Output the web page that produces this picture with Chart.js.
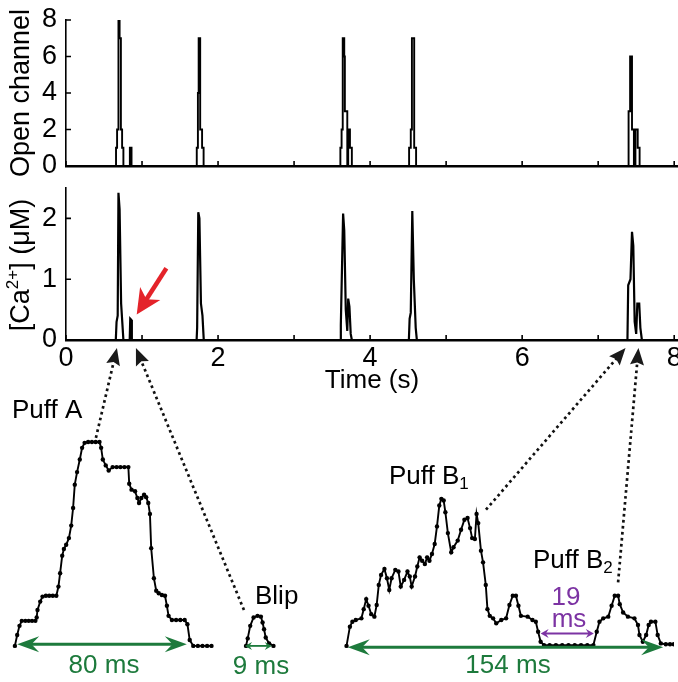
<!DOCTYPE html>
<html>
<head>
<meta charset="utf-8">
<script src="https://cdn.jsdelivr.net/npm/chart.js@4.4.0/dist/chart.umd.min.js"></script>
<style>
  html, body { margin: 0; padding: 0; background: #fff; }
  #wrap { position: relative; width: 678px; height: 682px; overflow: hidden; }
  canvas { position: absolute; left: 0; }
</style>
</head>
<body>
<div id="wrap">
  <canvas id="topChart" width="678" height="185" style="top:0px"></canvas>
  <canvas id="midChart" width="678" height="220" style="top:180px"></canvas>
  <canvas id="botChart" width="678" height="282" style="top:400px"></canvas>
  <canvas id="overlay" width="678" height="682" style="top:0px"></canvas>
</div>
<script>
// open channels: [time (s), number open from that time on]
const channelSteps = [
  [0, 0],
  [0.658, 1], [0.672, 2], [0.690, 8], [0.705, 7], [0.722, 2], [0.738, 1], [0.755, 0],
  [0.840, 1], [0.862, 0],
  [1.720, 1], [1.735, 4], [1.745, 7], [1.765, 2], [1.790, 1], [1.810, 0],
  [3.609, 1], [3.625, 2], [3.640, 7], [3.660, 6], [3.668, 3], [3.700, 0], [3.712, 2], [3.735, 1], [3.760, 0],
  [4.513, 1], [4.535, 2], [4.550, 7], [4.580, 1], [4.605, 0],
  [7.400, 3], [7.420, 6], [7.445, 2], [7.470, 0], [7.490, 2], [7.520, 1], [7.545, 0],
  [8.05, 0]
];

// [Ca2+] at the site: [time (s), uM]
const caTrace = [
  [0, 0],
  [0.655, 0], [0.665, 0.30], [0.680, 0.40], [0.690, 2.42], [0.705, 2.15], [0.725, 0.60], [0.740, 0.30], [0.755, 0],
  [0.838, 0], [0.845, 0.35], [0.860, 0.33], [0.866, 0],
  [1.718, 0], [1.725, 0.20], [1.740, 2.10], [1.755, 2.00], [1.775, 0.60], [1.795, 0.40], [1.812, 0],
  [3.605, 0], [3.615, 0.25], [3.645, 2.08], [3.660, 1.80], [3.680, 0.50], [3.700, 0.15], [3.712, 0.68], [3.728, 0.55], [3.745, 0.10], [3.760, 0],
  [4.510, 0], [4.520, 0.35], [4.535, 0.45], [4.555, 2.12], [4.575, 1.00], [4.600, 0.20], [4.615, 0],
  [7.385, 0], [7.395, 0.90], [7.425, 1.00], [7.445, 1.78], [7.462, 1.55], [7.480, 0.30], [7.500, 0.10], [7.515, 0.60], [7.540, 0.60], [7.555, 0.20], [7.575, 0],
  [8.05, 0]
];

const timeLabels = [0, 2, 4, 6, 8];
const channelLabels = [0, 2, 4, 6, 8];
const caLabels = [0, 1, 2];

// zoomed events: [ms from event start, uM]
const puffA = [
  [0, 0], [1.1, 0.13], [2.2, 0.24], [3.3, 0.30], [5.0, 0.30], [6.6, 0.30], [8.2, 0.30], [9.8, 0.30],
  [10.4, 0.34], [10.8, 0.43], [12.1, 0.53], [13.2, 0.59], [14.8, 0.60], [16.4, 0.60], [18.1, 0.60], [19.8, 0.60],
  [20.8, 0.71], [21.6, 0.87], [22.6, 1.08], [23.4, 1.16], [24.5, 1.21], [25.8, 1.29], [26.9, 1.44], [27.8, 1.65],
  [28.6, 1.93], [29.7, 2.08], [31.0, 2.23], [32.1, 2.37], [33.3, 2.43], [35.0, 2.44], [36.8, 2.44], [38.6, 2.44],
  [40.4, 2.44], [41.2, 2.37], [42.0, 2.23], [43.4, 2.16], [44.8, 2.10], [46.7, 2.14], [48.6, 2.14], [50.4, 2.14],
  [52.3, 2.14], [54.2, 2.14], [54.6, 1.94], [55.7, 1.87], [57.4, 1.85], [58.5, 1.77], [59.3, 1.71], [60.4, 1.77],
  [61.7, 1.81], [62.7, 1.78], [63.7, 1.71], [64.5, 1.58], [65.1, 1.17], [66.4, 0.81], [67.5, 0.66], [68.7, 0.63],
  [70.2, 0.61], [71.7, 0.60], [72.6, 0.48], [73.4, 0.36], [75.0, 0.31], [77.0, 0.31], [79.0, 0.31], [81.1, 0.31],
  [82.4, 0.26], [83.5, 0.07], [85.2, 0], [87.4, 0], [89.6, 0], [91.8, 0], [93.9, 0]
];
const blip = [
  [0, 0], [0.8, 0.09], [2.0, 0.24], [3.6, 0.34], [5.5, 0.36], [7.1, 0.35], [7.9, 0.28], [8.6, 0.20],
  [9.4, 0.10], [11.0, 0.03], [13.1, 0]
];
const puffB = [
  [0, 0], [1.6, 0.23], [2.8, 0.29], [4.4, 0.31], [7.1, 0.33], [8.2, 0.44], [9.4, 0.56], [10.5, 0.48],
  [11.8, 0.38], [13.3, 0.35], [14.4, 0.49], [15.4, 0.73], [16.5, 0.85], [18.1, 0.92], [19.3, 0.81], [20.4, 0.67],
  [21.5, 0.81], [23.3, 0.91], [24.8, 0.89], [25.9, 0.71], [27.5, 0.79], [29.1, 0.89], [30.2, 0.83], [31.1, 0.71],
  [32.7, 0.83], [33.8, 0.95], [34.9, 1.06], [36.1, 1.02], [37.4, 0.98], [38.5, 1.06], [39.6, 1.02], [40.8, 1.10],
  [42.1, 1.22], [43.2, 1.43], [44.3, 1.68], [45.3, 1.76], [46.4, 1.74], [47.2, 1.60], [48.4, 1.35], [50.0, 1.12],
  [51.1, 1.18], [53.1, 1.26], [54.7, 1.39], [56.3, 1.51], [57.8, 1.53], [59.0, 1.41], [60.0, 1.29], [61.3, 1.28],
  [62.1, 1.58], [62.9, 1.47], [64.2, 1.14], [65.2, 1.00], [66.5, 0.73], [67.3, 0.44], [68.4, 0.36], [70.0, 0.33],
  [71.5, 0.27], [73.9, 0.31], [76.2, 0.33], [77.8, 0.49], [79.4, 0.60], [80.9, 0.60], [82.1, 0.48], [83.3, 0.36],
  [86.5, 0.35], [88.8, 0.31], [90.4, 0.29], [91.5, 0.17], [92.7, 0.05], [94.3, 0.01],
  [97.0, 0.01], [100.0, 0.01], [103.0, 0.01], [106.0, 0.01], [109.0, 0.01], [112.0, 0.01], [115.0, 0.01], [117.9, 0.01],
  [119.5, 0.17], [120.8, 0.29], [122.6, 0.33], [125.0, 0.35], [126.6, 0.48], [128.1, 0.60], [129.7, 0.60], [130.5, 0.50],
  [132.1, 0.40], [134.4, 0.35], [137.5, 0.33], [139.2, 0.25], [139.9, 0.13], [141.5, 0.05], [143.1, 0.13], [144.3, 0.25],
  [145.4, 0.29], [147.5, 0.29], [148.6, 0.13], [150.1, 0.03], [152.5, 0.02], [154.5, 0.02], [156.3, 0.02]
];

const FONT = "'Liberation Sans', Arial, Helvetica, sans-serif";
const GREEN = '#1d7a3c';
const PURPLE = '#7c33a3';
const RED = '#e4232a';

// where each zoomed event starts on the inset time axis (ms)
const OFF_A = 5.2, OFF_BLIP = 115.6, OFF_B = 163.6;

function toXY(arr, off) {
  return arr.map(([x, y]) => ({ x: x + (off || 0), y: y }));
}

function richText(ctx, x, y, parts, align) {
  ctx.textBaseline = 'alphabetic';
  let w = 0;
  parts.forEach(p => { ctx.font = p.size + 'px ' + FONT; w += ctx.measureText(p.t).width; });
  let cx = align === 'center' ? x - w / 2 : x;
  ctx.textAlign = 'left';
  parts.forEach(p => {
    ctx.font = p.size + 'px ' + FONT;
    ctx.fillText(p.t, cx, y + (p.dy || 0));
    cx += ctx.measureText(p.t).width;
  });
}

function arrowHead(ctx, x1, y1, x2, y2, len, half, notch) {
  const a = Math.atan2(y2 - y1, x2 - x1);
  const c = Math.cos(a), s = Math.sin(a);
  ctx.beginPath();
  ctx.moveTo(x2, y2);
  ctx.lineTo(x2 - len * c + half * s, y2 - len * s - half * c);
  ctx.lineTo(x2 - len * notch * c, y2 - len * notch * s);
  ctx.lineTo(x2 - len * c - half * s, y2 - len * s + half * c);
  ctx.closePath();
  ctx.fill();
}

// short tick marks pointing into the plot
const inwardTicks = {
  id: 'inwardTicks',
  afterDraw(chart, args, opts) {
    const ctx = chart.ctx, area = chart.chartArea;
    const xs = chart.scales.x, ys = chart.scales.y;
    ctx.save();
    ctx.strokeStyle = '#000';
    ctx.lineWidth = 1.6;
    ctx.beginPath();
    xs.ticks.forEach(t => {
      const px = xs.getPixelForValue(t.value);
      ctx.moveTo(px, area.bottom);
      ctx.lineTo(px, area.bottom - opts.len);
    });
    ys.ticks.forEach(t => {
      const py = ys.getPixelForValue(t.value);
      ctx.moveTo(area.left, py);
      ctx.lineTo(area.left + opts.len, py);
    });
    ctx.stroke();
    ctx.restore();
  }
};

// rotated y title, x title and the red pointer
const axisTitles = {
  id: 'axisTitles',
  afterDraw(chart, args, opts) {
    const ctx = chart.ctx, area = chart.chartArea;
    ctx.save();
    ctx.fillStyle = '#000';
    ctx.translate(opts.yTitleX, opts.yTitleY);
    ctx.rotate(-Math.PI / 2);
    richText(ctx, 0, 9, opts.yTitle, 'center');
    ctx.restore();
    if (opts.xTitle) {
      ctx.save();
      ctx.fillStyle = '#000';
      richText(ctx, (area.left + area.right) / 2, area.bottom + opts.xTitleDy, opts.xTitle, 'center');
      ctx.restore();
    }
    if (opts.redArrow) {
      const r = opts.redArrow;
      const xs = chart.scales.x, ys = chart.scales.y;
      const x1 = xs.getPixelForValue(r.from[0]), y1 = ys.getPixelForValue(r.from[1]);
      const x2 = xs.getPixelForValue(r.to[0]), y2 = ys.getPixelForValue(r.to[1]);
      ctx.save();
      ctx.strokeStyle = RED;
      ctx.fillStyle = RED;
      ctx.lineWidth = 4.5;
      const a = Math.atan2(y2 - y1, x2 - x1);
      ctx.beginPath();
      ctx.moveTo(x1, y1);
      ctx.lineTo(x2 - 16 * Math.cos(a), y2 - 16 * Math.sin(a));
      ctx.stroke();
      arrowHead(ctx, x1, y1, x2, y2, 25, 12, 0.72);
      ctx.restore();
    }
  }
};

function yAxis(min, max, step, labels) {
  return {
    type: 'linear', min: min, max: max,
    grid: { display: false, drawTicks: false },
    border: { display: true, color: '#000', width: 1.6 },
    ticks: {
      stepSize: step, padding: 9, color: '#000', includeBounds: false,
      font: { family: FONT, size: 27 },
      callback: v => labels.includes(v) ? String(v) : ''
    },
    afterFit: s => { s.width = 66; s.paddingTop = 0; s.paddingBottom = 0; }
  };
}

function xAxis(showLabels, height) {
  return {
    type: 'linear', min: 0, max: 8.05,
    grid: { display: false, drawTicks: false },
    border: { display: true, color: '#000', width: 2.4 },
    ticks: {
      display: showLabels, stepSize: 1, includeBounds: false, padding: 2,
      color: '#000', maxRotation: 0, autoSkip: false,
      font: { family: FONT, size: 27 },
      callback: v => timeLabels.includes(v) ? String(v) : ''
    },
    afterFit: s => { s.height = height; s.paddingLeft = 0; s.paddingRight = 0; }
  };
}

const baseOpts = {
  animation: false, responsive: false, events: [],
  plugins: { legend: { display: false }, tooltip: { enabled: false } }
};

const topChart = new Chart(document.getElementById('topChart'), {
  type: 'line',
  data: {
    datasets: [{
      data: toXY(channelSteps), stepped: 'before',
      borderColor: '#000', borderWidth: 1.9, pointRadius: 0, fill: false
    }]
  },
  options: Object.assign({}, baseOpts, {
    layout: { padding: { top: 20, left: 0, right: 0, bottom: 0 } },
    plugins: Object.assign({}, baseOpts.plugins, {
      inwardTicks: { len: 5 },
      axisTitles: { yTitleX: 20, yTitleY: 93, yTitle: [{ t: 'Open channel', size: 27 }] }
    }),
    scales: { x: xAxis(false, 19), y: yAxis(0, 8, 1, channelLabels) }
  }),
  plugins: [inwardTicks, axisTitles]
});

const midChart = new Chart(document.getElementById('midChart'), {
  type: 'line',
  data: {
    datasets: [{
      data: toXY(caTrace),
      borderColor: '#000', borderWidth: 2.2, pointRadius: 0, fill: false, tension: 0
    }]
  },
  options: Object.assign({}, baseOpts, {
    layout: { padding: { top: 8, left: 0, right: 0, bottom: 0 } },
    plugins: Object.assign({}, baseOpts.plugins, {
      inwardTicks: { len: 5 },
      axisTitles: {
        yTitleX: 20, yTitleY: 85,
        yTitle: [{ t: '[Ca', size: 27 }, { t: '2+', size: 17, dy: -11 }, { t: '] (\u03bcM)', size: 27 }],
        xTitle: [{ t: 'Time (s)', size: 26 }], xTitleDy: 48,
        redArrow: { from: [1.32, 1.18], to: [0.93, 0.42] }
      }
    }),
    scales: { x: xAxis(true, 60), y: yAxis(0, 2.5, 0.5, caLabels) }
  }),
  plugins: [inwardTicks, axisTitles]
});

// duration bars under the zoomed events, in inset units (ms, uM)
const durationMarks = [
  { from: 6.3, to: 87.3, y: 0.02, color: GREEN, w: 3, len: 22, half: 8 },
  { from: 115.1, to: 127.9, y: 0.0, color: GREEN, w: 1.8, len: 7, half: 4 },
  { from: 164.2, to: 314.8, y: -0.015, color: GREEN, w: 3, len: 22, half: 8 },
  { from: 256.3, to: 281.7, y: 0.15, color: PURPLE, w: 2, len: 8, half: 4.5 }
];

const durationArrows = {
  id: 'durationArrows',
  afterDatasetsDraw(chart) {
    const ctx = chart.ctx, xs = chart.scales.x, ys = chart.scales.y;
    durationMarks.forEach(m => {
      const x1 = xs.getPixelForValue(m.from), x2 = xs.getPixelForValue(m.to);
      const y = ys.getPixelForValue(m.y);
      ctx.save();
      ctx.strokeStyle = m.color;
      ctx.fillStyle = m.color;
      ctx.lineWidth = m.w;
      ctx.beginPath();
      ctx.moveTo(x1 + m.len * 0.6, y);
      ctx.lineTo(x2 - m.len * 0.6, y);
      ctx.stroke();
      arrowHead(ctx, x2, y, x1, y, m.len, m.half, 0.65);
      arrowHead(ctx, x1, y, x2, y, m.len, m.half, 0.65);
      ctx.restore();
    });
  }
};

const eventStyle = {
  borderColor: '#000', borderWidth: 1.9, pointRadius: 2.2,
  pointBackgroundColor: '#000', pointBorderWidth: 0, fill: false, tension: 0
};

const botChart = new Chart(document.getElementById('botChart'), {
  type: 'line',
  data: {
    datasets: [
      Object.assign({ data: toXY(puffA, OFF_A) }, eventStyle),
      Object.assign({ data: toXY(blip, OFF_BLIP) }, eventStyle),
      Object.assign({ data: toXY(puffB, OFF_B) }, eventStyle)
    ]
  },
  options: Object.assign({}, baseOpts, {
    layout: { padding: 0 },
    scales: {
      x: { type: 'linear', display: false, min: 0, max: 320 },
      y: { type: 'linear', display: false, min: -0.384, max: 2.895 }
    }
  }),
  plugins: [durationArrows]
});

// dotted links from the zoomed events up to their place on the time axis
const MID_TOP = 180, BOT_TOP = 400;
const links = [
  { time: 0.67, start: [OFF_A + 38.7, 2.49] },
  { time: 0.92, start: [OFF_BLIP - 1.0, 0.43] },
  { time: 7.36, start: [OFF_B + 66.6, 1.63] },
  { time: 7.53, start: [OFF_B + 129.7, 0.76] }
];

const ov = document.getElementById('overlay').getContext('2d');
const tipY = MID_TOP + midChart.chartArea.bottom + 8;
links.forEach(l => {
  const x2 = midChart.scales.x.getPixelForValue(l.time);
  const x1 = botChart.scales.x.getPixelForValue(l.start[0]);
  const y1 = BOT_TOP + botChart.scales.y.getPixelForValue(l.start[1]);
  const a = Math.atan2(tipY - y1, x2 - x1);
  ov.save();
  ov.strokeStyle = '#111';
  ov.fillStyle = '#1a1a1a';
  ov.lineWidth = 2.7;
  ov.setLineDash([2.7, 3.3]);
  ov.beginPath();
  ov.moveTo(x1, y1);
  ov.lineTo(x2 - 12 * Math.cos(a), tipY - 12 * Math.sin(a));
  ov.stroke();
  ov.setLineDash([]);
  arrowHead(ov, x1, y1, x2, tipY, 17, 7, 0.85);
  ov.restore();
});

// event names and durations
ov.fillStyle = '#000';
richText(ov, 12, 418, [{ t: 'Puff A', size: 26 }], 'left');
richText(ov, 255, 604, [{ t: 'Blip', size: 26 }], 'left');
richText(ov, 389, 484, [{ t: 'Puff B', size: 26 }, { t: '1', size: 17, dy: 5 }], 'left');
richText(ov, 533, 568, [{ t: 'Puff B', size: 26 }, { t: '2', size: 17, dy: 5 }], 'left');
ov.fillStyle = PURPLE;
richText(ov, 566, 605, [{ t: '19', size: 26 }], 'center');
richText(ov, 569, 627, [{ t: 'ms', size: 26 }], 'center');
ov.fillStyle = GREEN;
richText(ov, 104, 673, [{ t: '80 ms', size: 26 }], 'center');
richText(ov, 261, 674, [{ t: '9 ms', size: 26 }], 'center');
richText(ov, 508, 673, [{ t: '154 ms', size: 26 }], 'center');
</script>
</body>
</html>
